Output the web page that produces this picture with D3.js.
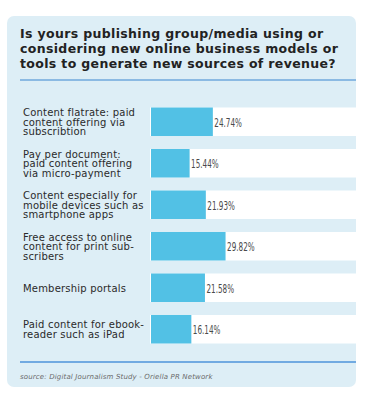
<!DOCTYPE html>
<html>
<head>
<meta charset="utf-8">
<script src="https://cdn.jsdelivr.net/npm/d3@7"></script>
<style>
  html, body { margin: 0; padding: 0; background: #fff; }
  svg { display: block; }
</style>
</head>
<body>
<svg id="chart" width="373" height="400"></svg>
<script>
const titleLines = [
  "Is yours publishing group/media using or",
  "considering new online business models or",
  "tools to generate new sources of revenue?"
];
const categories = [
  ["Content flatrate: paid", "content offering via", "subscribtion"],
  ["Pay per document:", "paid content offering", "via micro-payment"],
  ["Content especially for", "mobile devices such as", "smartphone apps"],
  ["Free access to online", "content for print sub-", "scribers"],
  ["Membership portals"],
  ["Paid content for ebook-", "reader such as iPad"]
];
const values = [24.74, 15.44, 21.93, 29.82, 21.58, 16.14];
const valueLabels = ["24.74%", "15.44%", "21.93%", "29.82%", "21.58%", "16.14%"];
const sourceText = "source: Digital Journalism Study - Oriella PR Network";

const svg = d3.select("#chart");

// panel
svg.append("rect")
  .attr("x", 7).attr("y", 16).attr("width", 349).attr("height", 371)
  .attr("rx", 7).attr("fill", "#ddeef6");

// title
const title = svg.append("text")
  .attr("font-family", "'DejaVu Sans', Verdana, sans-serif")
  .attr("font-weight", "bold")
  .attr("font-size", 12.5)
  .attr("letter-spacing", 0.35)
  .attr("fill", "#222");
titleLines.forEach((t, i) => {
  title.append("tspan").attr("x", 20).attr("y", 37.7 + i * 15.3).text(t);
});

// top rule
svg.append("line").attr("x1", 20).attr("x2", 356).attr("y1", 80).attr("y2", 80)
  .attr("stroke", "#6fa8dc").attr("stroke-width", 1.6);

const idx = d3.range(values.length);
const y = d3.scaleBand().domain(idx).range([107.5, 343.5]).paddingInner(0.313).paddingOuter(0);
const x = d3.scaleLinear().domain([0, 100]).range([151, 401]);

// white rows
svg.selectAll("rect.row").data(idx).enter().append("rect")
  .attr("class", "row")
  .attr("x", 150).attr("y", d => y(d))
  .attr("width", 356 - 150).attr("height", y.bandwidth())
  .attr("fill", "#ffffff");

// bars
svg.selectAll("rect.bar").data(idx).enter().append("rect")
  .attr("class", "bar")
  .attr("x", x(0)).attr("y", d => y(d))
  .attr("width", d => x(values[d]) - x(0)).attr("height", y.bandwidth())
  .attr("fill", "#52c1e5");

// value labels (condensed)
svg.selectAll("text.val").data(idx).enter().append("text")
  .attr("class", "val")
  .attr("transform", d => `translate(${x(values[d]) + 1.5},${y(d) + y.bandwidth() / 2 + 4.8}) scale(0.62,1)`)
  .attr("font-family", "'DejaVu Sans Condensed', 'DejaVu Sans', sans-serif")
  .attr("font-size", 13)
  .attr("fill", "#4a4a4a")
  .text(d => valueLabels[d]);

// category labels
const lab = svg.selectAll("text.cat").data(idx).enter().append("text")
  .attr("class", "cat")
  .attr("font-family", "'DejaVu Sans', Verdana, sans-serif")
  .attr("font-size", 10)
  .attr("letter-spacing", 0.2)
  .attr("fill", "#2a2a2a");
lab.each(function(d) {
  const lines = categories[d];
  const c = y(d) + y.bandwidth() / 2 + 4;
  const n = lines.length;
  lines.forEach((t, i) => {
    d3.select(this).append("tspan")
      .attr("x", 23)
      .attr("y", c + (i - (n - 1) / 2) * 9.7)
      .text(t);
  });
});

// bottom rule
svg.append("line").attr("x1", 20).attr("x2", 356).attr("y1", 362).attr("y2", 362)
  .attr("stroke", "#4d93da").attr("stroke-width", 1.6);

// source
svg.append("text")
  .attr("x", 20).attr("y", 379)
  .attr("font-family", "'DejaVu Sans', Verdana, sans-serif")
  .attr("font-style", "italic")
  .attr("font-size", 7)
  .attr("letter-spacing", 0.15)
  .attr("fill", "#6a6a6a")
  .text(sourceText);
</script>
</body>
</html>
